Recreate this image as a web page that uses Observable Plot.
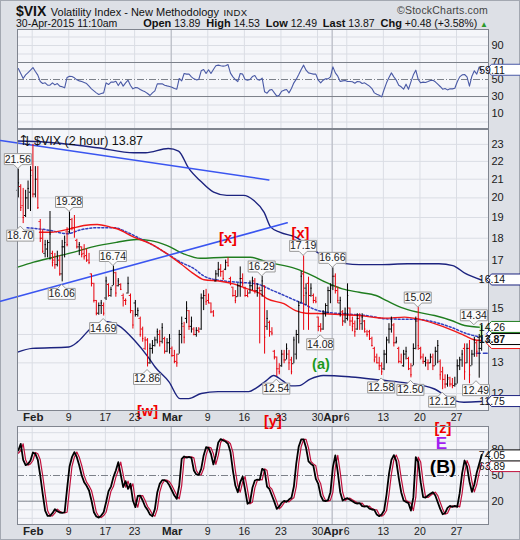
<!DOCTYPE html>
<html><head><meta charset="utf-8">
<script src="https://cdn.jsdelivr.net/npm/d3@7"></script>
<script src="https://cdn.jsdelivr.net/npm/@observablehq/plot@0.6"></script>
<style>
body{margin:0;background:#fff;}
#wrap{position:relative;width:520px;height:540px;background:#dde0e6;overflow:hidden;font-family:"Liberation Sans",Arial,sans-serif;box-shadow:inset 0 0 0 1px #a3a8b1;}
#wrap svg{position:absolute;left:0;}
.hd{position:absolute;white-space:nowrap;color:#111;}
</style></head><body><div id="wrap">
<div class="hd" style="left:16px;top:2px;"><span style="font-weight:bold;font-size:14px;">$VIX</span> <span style="font-size:11px;">Volatility Index - New Methodology</span> <span style="font-size:9.5px;letter-spacing:0.3px;">INDX</span></div>
<div class="hd" style="right:32px;top:4px;font-size:10.5px;color:#444;letter-spacing:0.2px;">©StockCharts.com</div>
<div class="hd" style="left:16px;top:17px;font-size:10.5px;">30-Apr-2015 11:10am</div>
<div class="hd" style="right:32px;top:17px;font-size:10.5px;"><b style="font-size:11px">Open</b> 13.89 &nbsp;<b style="font-size:11px">High</b> 14.53 &nbsp;<b style="font-size:11px">Low</b> 12.49 &nbsp;<b style="font-size:11px">Last</b> 13.87 &nbsp;<b style="font-size:11px">Chg</b> +0.48 (+3.58%) <span style="color:#2a9a2a;font-size:8px;">▲</span></div>
</div>
<script>
// ---------- x axis (trading days from Jan 29, 2015) ----------
const tickDays   = [2, 7, 12, 16, 21, 26, 31, 36, 41, 43, 45, 50, 55, 60];
const tickLabels = ["Feb","9","17","23","Mar","9","16","23","30","Apr","6","13","20","27"];
const darkGridDays = [21, 43];
const xDom = [-0.01, 64.37];
const barsPerDay = 3;

// ---------- 2-hour OHLC bars ----------
const opens = [20.4,20.6,19.6,19.1,20.0,20.3,21.5,20.2,21.0,18.8,
18.0,17.3,17.5,17.8,17.3,17.0,16.8,17.0,16.4,17.6,
18.3,18.3,18.9,18.5,17.9,17.6,17.6,17.3,17.2,17.0,
16.4,16.0,15.3,14.8,15.1,15.1,15.4,15.95,15.5,15.9,
16.45,15.9,15.95,15.5,15.3,15.6,15.5,14.9,15.2,14.75,
14.6,14.2,13.5,13.8,13.0,13.5,13.6,13.8,14.0,13.75,
13.85,13.4,13.7,13.5,13.25,13.05,13.3,14.0,14.3,14.6,
14.9,14.3,14.2,14.0,14.15,14.2,15.4,15.5,15.3,15.2,
14.85,16.1,16.4,16.6,16.5,16.6,16.9,16.2,15.84,15.5,
15.45,15.9,16.2,15.8,15.5,15.6,15.9,16.1,15.7,15.8,
15.7,15.9,14.3,14.45,14.1,13.4,13.2,12.8,12.9,13.3,
13.1,13.3,13.1,12.97,13.3,14.0,15.2,16.4,15.8,16.0,
15.5,15.5,15.3,14.65,14.3,14.2,14.8,15.1,15.7,15.9,
16.3,15.7,15.2,14.85,14.5,14.6,15.0,14.5,14.4,14.2,
14.6,14.4,14.5,14.1,14.1,13.85,13.5,13.2,13.0,12.9,
12.8,13.3,13.8,14.2,14.35,13.7,13.5,13.05,12.9,13.3,
13.15,12.8,12.9,13.5,14.5,13.5,13.2,13.05,13.0,13.0,
13.2,12.9,13.4,13.05,12.7,12.45,12.3,12.5,12.3,12.25,
12.3,12.9,13.1,13.5,13.0,13.5,12.9,13.3,13.7,13.89,
13.5];
const highs = [21.56,20.7,20.5,20.4,20.9,21.7,23.0,21.7,21.7,18.9,
18.4,17.9,17.9,19.3,17.4,17.3,17.4,17.2,17.9,18.1,
18.5,19.28,18.95,19.1,17.95,17.8,17.6,17.7,17.5,17.3,
16.4,16.0,15.3,15.2,15.3,15.2,16.26,15.98,15.84,16.74,
16.47,16.2,15.98,15.56,15.36,16.26,15.56,14.9,15.3,15.0,
14.65,14.27,13.9,13.85,13.66,13.78,13.9,14.2,14.15,14.4,
13.9,13.85,14.0,13.55,13.43,13.3,14.15,14.65,14.45,15.25,
14.9,14.65,14.25,14.25,14.25,15.56,15.7,15.75,15.56,15.2,
14.9,16.54,16.9,16.8,16.54,17.0,17.1,16.26,15.84,15.7,
15.98,16.7,16.4,15.84,15.7,16.1,16.26,16.2,15.98,15.84,
16.29,15.9,14.9,14.5,14.25,13.43,13.2,12.97,13.43,13.43,
13.66,13.43,13.19,13.9,14.15,15.25,16.5,17.19,15.98,16.26,
15.98,15.56,15.43,14.65,14.4,14.9,15.17,15.84,15.98,16.66,
16.4,15.84,15.43,14.9,15.0,15.98,15.0,14.65,14.5,14.78,
14.78,14.78,14.52,14.15,14.15,13.9,13.54,13.3,13.19,13.0,
13.43,13.9,14.4,14.65,14.4,13.9,13.54,13.3,13.43,13.54,
13.19,12.97,13.66,14.65,15.02,13.54,13.3,13.19,13.1,13.3,
13.3,13.54,13.78,13.1,12.85,12.6,12.6,12.52,12.48,12.52,
13.1,13.19,13.43,13.66,13.66,13.78,13.43,13.9,13.78,14.0,
14.34];
const lows = [20.0,19.3,18.7,19.0,19.4,19.3,20.0,20.0,19.4,17.8,
17.3,17.1,17.1,17.0,16.7,16.6,16.7,16.3,16.06,17.1,
17.6,18.2,18.35,18.0,17.5,17.2,17.1,17.0,16.9,16.8,
15.85,15.2,14.7,14.72,14.75,14.69,15.3,15.43,15.43,15.9,
15.43,15.85,15.7,15.04,15.1,15.56,14.78,14.2,14.65,14.65,
13.9,13.72,13.43,12.86,12.95,13.3,13.55,13.66,13.55,13.66,
13.3,13.35,13.3,13.19,12.97,12.85,13.3,13.66,13.66,14.4,
14.15,14.05,13.95,13.9,14.05,14.15,14.9,15.1,15.17,14.78,
14.65,16.05,16.26,16.26,16.12,16.54,16.7,15.9,15.43,15.17,
15.43,15.43,15.84,15.43,15.43,15.56,15.7,15.56,15.43,13.66,
15.43,13.3,14.15,13.9,13.95,13.1,12.54,12.6,12.85,12.97,
13.1,12.74,12.6,12.97,13.1,13.66,15.2,14.15,15.1,14.15,
15.43,15.17,15.17,14.1,14.08,14.15,14.65,14.78,15.17,15.7,
15.56,15.17,14.65,14.3,14.4,14.5,14.3,14.1,13.9,14.15,
14.15,14.15,14.05,13.9,13.78,13.55,13.0,12.97,12.74,12.58,
12.74,12.97,13.66,14.05,13.55,13.66,12.97,12.97,12.85,13.1,
12.74,12.5,12.9,13.45,13.43,13.1,12.95,12.86,12.74,12.97,
12.74,12.9,12.97,12.42,12.12,12.15,12.2,12.2,12.15,12.2,
12.3,12.74,12.85,12.42,12.97,12.31,12.9,13.19,13.19,12.49,
13.4];
const closes = [20.8,19.5,19.0,20.0,20.5,21.2,20.2,21.0,19.5,18.0,
17.4,17.7,17.8,18.2,16.9,16.8,17.1,16.4,17.6,17.8,
17.7,18.9,18.5,18.3,17.6,17.7,17.25,17.15,17.0,16.9,
16.0,15.3,14.8,15.1,15.2,14.8,16.1,15.5,15.75,16.6,
15.6,16.1,15.75,15.4,15.3,16.0,14.9,14.35,14.75,14.9,
14.0,13.85,13.8,13.0,13.5,13.6,13.8,14.1,13.75,14.25,
13.4,13.7,13.85,13.25,13.05,13.0,14.0,14.4,13.9,15.0,
14.3,14.5,14.0,14.15,14.1,15.4,15.5,15.25,15.2,14.85,
14.7,16.4,16.6,16.5,16.2,16.9,16.75,15.95,15.5,15.3,
15.9,16.2,16.0,15.5,15.45,15.9,16.1,15.7,15.8,15.7,
16.1,13.9,14.6,14.1,14.05,13.2,12.8,12.7,13.3,13.1,
13.5,13.0,12.7,13.8,14.0,15.1,16.3,15.5,15.6,14.9,
15.8,15.3,15.25,14.3,14.2,14.8,15.1,15.7,15.8,16.3,
15.7,15.3,15.3,14.5,14.8,15.5,14.5,14.3,14.1,14.6,
14.5,14.65,14.2,14.0,13.85,13.6,13.1,13.0,12.9,12.7,
13.3,13.8,14.2,14.5,13.7,13.75,13.05,13.0,13.3,13.4,
12.8,12.6,13.5,14.5,13.6,13.2,13.05,13.1,13.0,13.2,
12.9,13.4,13.6,12.6,12.45,12.3,12.45,12.3,12.25,12.3,
12.9,13.1,13.3,12.7,13.5,12.6,13.3,13.8,13.4,13.5,
13.87];

// ---------- overlays (day, value) ----------
const upperBandDay = [0,4,10.9,15.9,17.5,20.6,22,23.4,25,26.8,28.6,30.9,32.3,33.7,34.6,35.9,38,40.3,43,46.7,49.5,53.3,57.6,59.5,61.2,63.4];
const upperBandVal = [23.2,23.13,22.8,22.5,22.5,22.75,22.6,21.6,20.9,20.3,20.13,20.13,19.86,19.26,18.53,18.28,18.05,17.5,16.98,16.8,16.8,16.84,16.84,16.76,16.42,16.14];
const lowerBandDay = [0,2,7,8.2,10,11.8,13.8,16,17.9,18.8,20.7,22.2,23.4,25.1,27.4,31.6,32.6,34,35,36.2,37.4,38.5,40,41.8,45.6,49.6,53.3,56.9,59.7,61,63.4];
const lowerBandVal = [13.37,13.5,13.55,13.73,14.22,14.48,14.33,13.78,13.18,12.86,12.37,11.84,11.84,12.0,12.06,12.06,12.17,12.41,12.58,12.41,12.24,12.25,12.46,12.58,12.53,12.43,12.33,12.15,11.78,11.73,11.75];
const redMaDay = [3,4.5,7.2,9.05,10.9,12.7,13.6,15.9,18.2,20.45,22.3,24.1,25.5,27.7,29.5,31.4,33.2,34.1,36.4,38,39.4,42.1,44.4,46.7,48.5,50.2,52.9,54.7,57,59.3,61.1,62.4,63.4];
const redMaVal = [18.28,18.28,18.45,18.61,18.66,18.53,18.45,18.05,17.74,17.28,16.84,16.4,16.15,16.09,15.98,15.77,15.57,15.37,15.17,14.9,14.8,14.78,14.74,14.71,14.65,14.61,14.65,14.58,14.4,14.17,13.96,13.81,13.78];
const greenMaDay = [0,2.2,4.9,7.6,10.4,13.6,16.3,18.2,20.45,22.7,25,28.6,31.8,34.1,38,40.3,42.1,44.4,46.7,49,50.6,52.4,54.7,57,59.3,61.1,63.4];
const greenMaVal = [16.69,16.91,17.13,17.35,17.61,17.81,17.94,17.89,17.66,17.28,17.08,17.13,17.13,16.91,16.63,16.33,16.05,15.77,15.63,15.5,15.27,15.03,14.84,14.71,14.52,14.33,14.26];
const dotMaDay = [1.3,4.5,6.8,8.6,10.9,13.2,15,16.8,18.6,20.45,22.3,24.1,25.5,27.7,30,32.6,34.9,38,39.2,40.4,42.1,44.4,47.6,50.6,54.7,57,59.3,61.5,63.4];
const dotMaVal = [18.5,18.37,18.21,18.4,18.5,18.5,18.28,17.97,17.66,17.28,16.91,16.63,16.3,16.12,16.05,15.98,15.7,15.3,15.15,14.97,14.84,14.78,14.71,14.58,14.56,14.46,14.26,14.02,13.9];
const lastDashDay = [62.7, 64.3];
const lastDashVal = [13.33, 13.33];
const trendADay = [-2.33, 34.34];
const trendAVal = [23.23, 20.96];
const trendBDay = [-2.33, 36.85];
const trendBVal = [15.27, 18.74];

// ---------- labelled pivots ----------
const pivotBar  = [0,1,21,18,39,35,53,100,106,117,129,124,149,161,164,174,187,189];
const pivotText = ["21.56","18.70","19.28","16.06","16.74","14.69","12.86","16.29","12.54","17.19","16.66","14.08","12.58","12.50","15.02","12.12","14.34","12.49"];
const pivotSide = ["high","low","high","low","high","low","low","high","low","high","high","low","low","low","high","low","high","low"];

// ---------- wave annotations ----------
const waveText = ["[x]","[x]","(a)","[w]","[y]"];
const waveDay  = [28.76, 38.67, 41.47, 17.76, 34.9];
const waveVal  = [18.01, 18.22, 12.94, 11.45, 11.17];
const stochWaveText = ["[z]","E","(B)"];
const stochWaveDay  = [58.15, 57.95, 58.15];
const stochWaveVal  = [105.4, 86.8, 59.9];

// ---------- RSI(14) ----------
const rsi = [62.9,57.1,51.2,55.5,58.2,61.0,64.1,59.4,55.1,47.6,
45.3,46.1,43.3,43.3,46.1,43.7,45.3,42.2,41.4,40.2,
52.4,53.9,53.5,52.0,49.6,48.4,47.6,46.5,45.3,42.2,
39.0,36.7,34.3,32.4,33.5,34.3,46.1,44.1,46.9,46.9,
48.0,42.9,47.3,42.2,46.1,49.2,42.9,39.0,40.6,40.2,
38.2,36.7,35.5,33.5,31.2,34.3,36.7,44.9,44.9,44.9,
43.3,42.5,41.8,41.0,39.4,38.6,51.2,48.4,57.1,56.3,
56.3,53.1,50.8,49.6,50.0,60.2,61.8,57.1,61.4,57.1,
61.8,66.1,66.9,66.1,65.7,66.1,67.6,57.5,53.1,50.0,
47.6,57.1,56.3,50.0,49.2,50.0,53.5,54.7,50.0,49.2,
51.6,35.5,33.9,37.5,38.2,34.3,30.4,31.6,36.3,37.5,
38.2,34.3,39.4,46.1,50.4,55.9,61.8,66.9,61.0,57.8,
57.1,56.3,56.3,49.2,46.1,49.2,50.8,50.8,53.1,64.9,
57.8,53.9,47.6,48.4,48.8,47.6,47.6,47.3,45.7,47.6,
47.3,45.3,46.1,44.1,42.2,39.4,34.3,32.7,31.6,29.6,
38.2,46.1,52.4,57.8,53.1,49.2,43.3,41.4,38.6,44.5,
38.6,47.3,55.5,61.0,50.0,46.1,46.9,46.5,47.6,48.8,
49.2,47.3,44.5,41.8,38.6,39.4,37.8,39.0,39.0,39.8,
47.3,53.1,55.5,55.9,53.1,42.2,53.9,60.2,56.3,64.9,
59.11];

// ---------- Slow stochastic %K (black) and %D (red) ----------
const stochK = [79.2,87.0,68.3,62.1,63.6,67.5,76.9,75.3,68.3,50.0,
28.6,9.1,2.9,2.9,6.0,10.7,8.3,6.8,6.4,7.1,
34.4,60.5,71.4,77.3,71.4,61.7,50.0,42.2,37.9,32.5,
20.8,7.1,2.1,0.9,3.2,7.1,18.8,31.7,37.1,48.1,
55.8,65.6,51.2,36.4,43.4,34.4,40.3,20.8,13.0,26.2,
26.6,20.8,13.8,9.9,4.4,2.5,10.7,30.5,40.3,44.5,
44.5,42.6,38.3,32.5,26.6,22.7,38.3,69.5,72.2,71.0,
71.8,70.6,55.8,51.2,50.8,57.8,73.4,83.1,82.3,75.3,
62.9,73.4,88.6,92.5,90.9,89.7,87.0,77.3,55.8,38.3,
30.5,42.2,48.8,33.2,16.9,18.8,35.6,44.2,45.3,44.9,
57.8,55.8,37.1,34.0,26.6,19.2,11.0,13.8,18.1,20.4,
19.2,21.9,23.9,37.1,64.4,83.9,92.1,92.1,82.3,66.4,
63.6,61.3,46.1,40.3,26.6,20.8,20.0,21.2,30.5,59.7,
73.4,53.9,30.5,20.8,22.7,23.5,21.6,20.0,18.1,17.3,
17.7,14.2,13.8,14.2,11.4,10.3,9.9,4.4,2.5,4.4,
9.1,27.8,51.9,68.3,73.8,66.8,47.3,30.5,20.8,19.2,
17.7,9.1,24.7,71.4,65.6,42.2,24.7,24.3,26.6,28.6,
30.5,26.6,18.8,11.0,4.8,6.0,12.2,14.5,13.4,14.5,
13.4,29.4,52.7,67.5,60.5,43.0,30.9,39.5,53.5,63.6,
74.05];
const stochD = [76.0,79.2,87.0,68.3,62.1,63.6,67.5,76.9,75.3,68.3,
50.0,28.6,9.1,2.9,2.9,6.0,10.7,8.3,6.8,6.4,
7.1,34.4,60.5,71.4,77.3,71.4,61.7,50.0,42.2,37.9,
32.5,20.8,7.1,2.1,0.9,3.2,7.1,18.8,31.7,37.1,
48.1,55.8,65.6,51.2,36.4,43.4,34.4,40.3,20.8,13.0,
26.2,26.6,20.8,13.8,9.9,4.4,2.5,10.7,30.5,40.3,
44.5,44.5,42.6,38.3,32.5,26.6,22.7,38.3,69.5,72.2,
71.0,71.8,70.6,55.8,51.2,50.8,57.8,73.4,83.1,82.3,
75.3,62.9,73.4,88.6,92.5,90.9,89.7,87.0,77.3,55.8,
38.3,30.5,42.2,48.8,33.2,16.9,18.8,35.6,44.2,45.3,
44.9,57.8,55.8,37.1,34.0,26.6,19.2,11.0,13.8,18.1,
20.4,19.2,21.9,23.9,37.1,64.4,83.9,92.1,92.1,82.3,
66.4,63.6,61.3,46.1,40.3,26.6,20.8,20.0,21.2,30.5,
59.7,73.4,53.9,30.5,20.8,22.7,23.5,21.6,20.0,18.1,
17.3,17.7,14.2,13.8,14.2,11.4,10.3,9.9,4.4,2.5,
4.4,9.1,27.8,51.9,68.3,73.8,66.8,47.3,30.5,20.8,
19.2,17.7,9.1,24.7,71.4,65.6,42.2,24.7,24.3,26.6,
28.6,30.5,26.6,18.8,11.0,4.8,6.0,12.2,14.5,13.4,
14.5,13.4,29.4,52.7,67.5,60.5,43.0,30.9,39.5,53.5,
63.89];

const mainTicks = [12,13,15,17,18,19,20,21,22,23];
const mainGrid = [12,13,14,15,16,17,18,19,20,21,22,23];
const rsiTicks = [10,30,50,70,90];
const rsiGrid = [0,10,20,40,60,80,90,100];
const stochTicks = [20,50,80];
const stochGrid = [0,10,30,40,60,70,90,100];

// ================= drawing =================
const FONT = "Liberation Sans, Arial, sans-serif";
const PANEL = "#f5f6fa", GRID = "#dadde4", DARKGRID = "#b3b7c0", BORDER = "#80858f";
const RED = "#e8000b";
const wrap = document.getElementById("wrap");
const barDay = i => Math.floor(i / barsPerDay) + ((i % barsPerDay) + 0.3) / barsPerDay;
const pts = (ds, vs) => ds.map((d, i) => ({d, v: vs[i]}));
const ticksArr = tickDays.map((d, i) => ({d, label: tickLabels[i], month: isNaN(+tickLabels[i])}));
const bars = opens.map((o, i) => ({d: barDay(i), o, h: highs[i], l: lows[i], c: closes[i],
  col: i > 0 && closes[i] < closes[i - 1] ? RED : "#000"}));
const style = {background: "transparent", overflow: "visible", fontFamily: FONT, fontSize: "11px", color: "#1a1a1a"};

function xLabelMarks(dy) {
  return [
    Plot.text(ticksArr.filter(t => !t.month), {x: "d", text: "label", frameAnchor: "bottom", lineAnchor: "top", dy, fontSize: 10.5, fill: "#222"}),
    Plot.text(ticksArr.filter(t => t.month), {x: "d", text: "label", frameAnchor: "bottom", lineAnchor: "top", dy: dy - 0.5, fontSize: 11.5, fontWeight: "bold", fill: "#222", dx: 1})
  ];
}
function vGrid() {
  return [Plot.ruleX(tickDays, {stroke: GRID}), Plot.ruleX(darkGridDays, {stroke: DARKGRID})];
}
function place(svg, top, z) { svg.style.top = top + "px"; svg.style.zIndex = z; wrap.appendChild(svg); }

function addTags(svg, sy, tags) {
  const g = d3.select(svg).append("g").attr("font-family", FONT);
  for (const t of tags) {
    const y = sy.apply(t.v) + (t.dy || 0), x0 = 486.5;
    g.append("path").attr("d", `M${x0},${y}L${x0 + 5},${y - 5.5}H${x0 + 42}V${y + 5.5}H${x0 + 5}Z`)
      .attr("fill", "#fff").attr("stroke", t.color).attr("stroke-width", 1);
    if (t.text) g.append("text").attr("x", x0 + 5.5).attr("y", y + 4).attr("font-size", 10.5)
      .attr("font-weight", t.bold ? "bold" : "normal").attr("fill", "#111").text(t.text);
  }
}

// ---- RSI panel ----
const rsiPlot = Plot.plot({
  width: 520, height: 99, marginLeft: 17, marginRight: 32, marginTop: 0, marginBottom: 0, style,
  x: {domain: xDom, axis: null},
  y: {domain: [-7.6, 108.8]},
  marks: [
    Plot.frame({fill: PANEL, stroke: "none"}),
    Plot.ruleY(rsiGrid, {stroke: GRID}),
    ...vGrid(),
    Plot.ruleY([30, 70], {stroke: "#7c818a"}),
    Plot.ruleY([50], {stroke: "#7c818a", strokeDasharray: "7,2,1,2"}),
    Plot.axisY(rsiTicks, {anchor: "right", tickSize: 0, tickPadding: 3, fontSize: 11, label: null}),
    Plot.line(rsi.map((v, i) => ({d: barDay(i), v})), {x: "d", y: "v", stroke: "#4a5aa6", strokeWidth: 1.1}),
    Plot.frame({stroke: BORDER})
  ]
});
place(rsiPlot, 29, 1);
addTags(rsiPlot, rsiPlot.scale("y"), [{v: rsi[rsi.length - 1], text: rsi[rsi.length - 1].toFixed(2), color: "#4a5aa6", dy: -1.5}]);

// ---- Main price panel ----
const last = bars[bars.length - 1];
const mainPlot = Plot.plot({
  width: 520, height: 300, marginLeft: 17, marginRight: 32, marginTop: 0, marginBottom: 19, style,
  x: {domain: xDom, axis: null},
  y: {type: "log", domain: [11.479, 23.91]},
  marks: [
    Plot.frame({fill: PANEL, stroke: "none"}),
    Plot.ruleY(mainGrid, {stroke: GRID}),
    ...vGrid(),
    Plot.axisY(mainTicks, {anchor: "right", tickSize: 0, tickPadding: 3, fontSize: 11, tickFormat: d => String(d), label: null}),
    Plot.line(pts(upperBandDay, upperBandVal), {x: "d", y: "v", stroke: "#1c237f", strokeWidth: 1.4, curve: "monotone-x"}),
    Plot.line(pts(lowerBandDay, lowerBandVal), {x: "d", y: "v", stroke: "#1c237f", strokeWidth: 1.4, curve: "monotone-x"}),
    Plot.line(pts(greenMaDay, greenMaVal), {x: "d", y: "v", stroke: "#1f7d1f", strokeWidth: 1.4, curve: "monotone-x"}),
    Plot.line(pts(dotMaDay, dotMaVal), {x: "d", y: "v", stroke: "#3240c0", strokeWidth: 1.5, strokeDasharray: "2,2", curve: "monotone-x"}),
    Plot.line(pts(redMaDay, redMaVal), {x: "d", y: "v", stroke: "#f01818", strokeWidth: 1.4, curve: "monotone-x"}),
    Plot.line(pts(lastDashDay, lastDashVal), {x: "d", y: "v", stroke: "#3240c0", strokeWidth: 1.3, strokeDasharray: "4,3"}),
    Plot.line(pts(trendADay, trendAVal), {x: "d", y: "v", stroke: "#3a55f0", strokeWidth: 1.6}),
    Plot.line(pts(trendBDay, trendBVal), {x: "d", y: "v", stroke: "#3a55f0", strokeWidth: 1.6}),
    Plot.rect([last], {x1: b => b.d - 0.2, x2: b => b.d + 0.2, y1: "c", y2: "h", fill: "#b4f09a"}),
    Plot.ruleX(bars, {x: "d", y1: "l", y2: "h", stroke: "col", strokeWidth: 1}),
    Plot.ruleY(bars, {x1: b => b.d - 0.17, x2: "d", y: "o", stroke: "col", strokeWidth: 1}),
    Plot.ruleY(bars, {x1: "d", x2: b => b.d + 0.17, y: "c", stroke: "col", strokeWidth: 1}),
    Plot.text(waveText.map((t, i) => ({t, d: waveDay[i], v: waveVal[i]})),
      {x: "d", y: "v", text: "t", fontSize: 14.5, fontWeight: "bold", fill: d => d.t === "(a)" ? "#1c9a1c" : "#f00000"}),
    Plot.text(["\u21C5 $VIX (2 hour) 13.87"], {frameAnchor: "top-left", textAnchor: "start", dx: 2, dy: 7, fontSize: 12.5, fill: "#111"}),
    ...xLabelMarks(3),
    Plot.frame({stroke: BORDER})
  ]
});
place(mainPlot, 129, 3);
{
  const sx = mainPlot.scale("x"), sy = mainPlot.scale("y");
  const g = d3.select(mainPlot).append("g").attr("font-family", FONT);
  pivotBar.forEach((b, i) => {
    const cx = Math.min(sx.apply(barDay(b)), 476), ya = sy.apply(+pivotText[i]), hw = 13.5;
    let d, base;
    if (pivotSide[i] === "high") {
      const top = ya - 15, bot = ya - 4;
      d = `M${cx - hw},${top}H${cx + hw}V${bot}H${cx + 4}L${cx},${ya}L${cx - 4},${bot}H${cx - hw}Z`;
      base = bot - 2;
    } else {
      const top = ya + 7, bot = ya + 18;
      d = `M${cx - hw},${top}H${cx - 4}L${cx},${ya + 3}L${cx + 4},${top}H${cx + hw}V${bot}H${cx - hw}Z`;
      base = bot - 2;
    }
    g.append("path").attr("d", d).attr("fill", "#fbfbfc").attr("stroke", "#9a9a9a");
    g.append("text").attr("x", cx).attr("y", base).attr("text-anchor", "middle").attr("font-size", 10.5).attr("fill", "#1a1a1a").text(pivotText[i]);
  });
  addTags(mainPlot, sy, [
    {v: upperBandVal[upperBandVal.length - 1], text: upperBandVal[upperBandVal.length - 1].toFixed(2), color: "#1c237f"},
    {v: dotMaVal[dotMaVal.length - 1], text: null, color: "#3240c0", dy: -3},
    {v: greenMaVal[greenMaVal.length - 1], text: greenMaVal[greenMaVal.length - 1].toFixed(2), color: "#1f7d1f"},
    {v: redMaVal[redMaVal.length - 1], text: null, color: "#f01818", dy: 3},
    {v: lowerBandVal[lowerBandVal.length - 1], text: lowerBandVal[lowerBandVal.length - 1].toFixed(2), color: "#1c237f"},
    {v: last.c, text: last.c.toFixed(2), color: "#000", bold: true, dy: 1.5}
  ]);
}

// ---- Stochastic panel ----
const stochPlot = Plot.plot({
  width: 520, height: 125, marginLeft: 17, marginRight: 32, marginTop: 11, marginBottom: 16, style,
  x: {domain: xDom, axis: null},
  y: {domain: [-7.2, 107.2]},
  marks: [
    Plot.frame({fill: PANEL, stroke: "none"}),
    Plot.ruleY(stochGrid, {stroke: GRID}),
    ...vGrid(),
    Plot.ruleY([20, 80], {stroke: "#7c818a"}),
    Plot.ruleY([50], {stroke: "#7c818a", strokeDasharray: "7,2,1,2"}),
    Plot.axisY(stochTicks, {anchor: "right", tickSize: 0, tickPadding: 3, fontSize: 11, label: null}),
    Plot.line(stochD.map((v, i) => ({d: barDay(i), v})), {x: "d", y: "v", stroke: "#c0103c", strokeWidth: 1.2}),
    Plot.line(stochK.map((v, i) => ({d: barDay(i), v})), {x: "d", y: "v", stroke: "#000", strokeWidth: 1.8}),
    Plot.text(stochWaveText.map((t, i) => ({t, d: stochWaveDay[i], v: stochWaveVal[i]})),
      {x: "d", y: "v", text: "t", fontWeight: "bold",
       fontSize: d => d.t === "(B)" ? 19 : d.t === "E" ? 17 : 14.5,
       fill: d => d.t === "E" ? "#a020f0" : d.t === "(B)" ? "#000" : "#f00000"}),
    ...xLabelMarks(3),
    Plot.frame({stroke: BORDER})
  ]
});
place(stochPlot, 415, 2);
addTags(stochPlot, stochPlot.scale("y"), [
  {v: stochD[stochD.length - 1], text: stochD[stochD.length - 1].toFixed(2), color: "#c0103c", dy: 3},
  {v: stochK[stochK.length - 1], text: stochK[stochK.length - 1].toFixed(2), color: "#000", dy: 1}
]);
</script>
</body></html>
